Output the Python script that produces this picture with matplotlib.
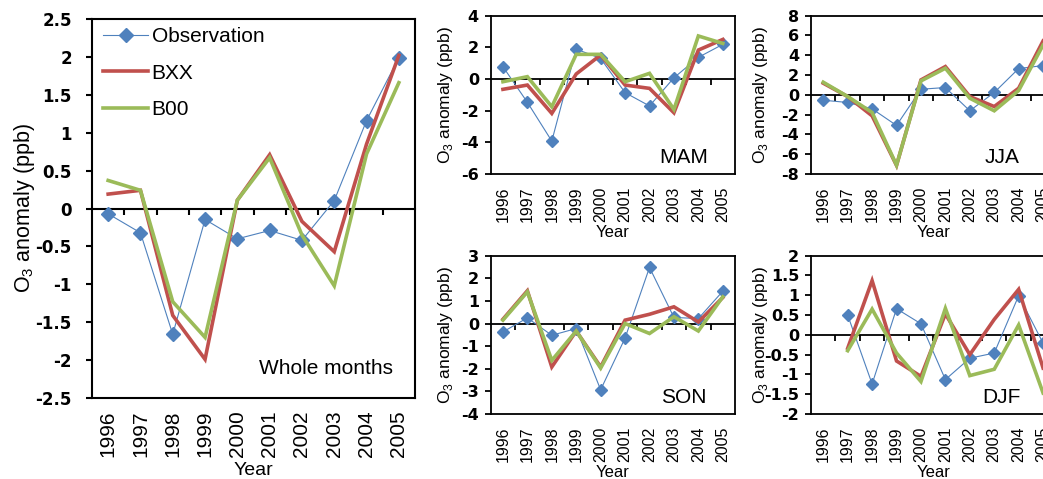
import numpy as np
import matplotlib
matplotlib.use('Agg')
import matplotlib.pyplot as plt
from matplotlib.ticker import FuncFormatter, MultipleLocator, FixedLocator, NullFormatter

years = ['1996', '1997', '1998', '1999', '2000', '2001', '2002', '2003', '2004', '2005']

whole_obs = [-0.07, -0.32, -1.66, -0.145, -0.40, -0.29, -0.42, 0.105, 1.16, 1.99]
whole_bxx = [0.19, 0.24, -1.41, -1.99, 0.11, 0.71, -0.17, -0.57, 0.85, 2.02]
whole_b00 = [0.37, 0.24, -1.23, -1.70, 0.11, 0.67, -0.35, -1.02, 0.72, 1.66]

mam_obs = [0.78, -1.47, -3.92, 1.89, 1.30, -0.86, -1.70, 0.08, 1.37, 2.19]
mam_bxx = [-0.65, -0.38, -2.17, 0.32, 1.52, -0.38, -0.59, -2.13, 1.83, 2.50]
mam_b00 = [-0.17, 0.15, -1.75, 1.56, 1.56, -0.17, 0.36, -1.92, 2.72, 2.25]

jja_obs = [-0.54, -0.77, -1.41, -3.09, 0.57, 0.74, -1.61, 0.24, 2.66, 2.96]
jja_bxx = [1.18, -0.17, -2.12, -7.13, 1.51, 2.86, -0.17, -1.18, 0.67, 5.45]
jja_b00 = [1.28, -0.17, -1.78, -7.10, 1.41, 2.69, -0.34, -1.61, 0.44, 5.04]

son_obs = [-0.37, 0.25, -0.52, -0.22, -2.93, -0.64, 2.48, 0.27, 0.22, 1.43]
son_bxx = [0.19, 1.45, -1.92, -0.33, -1.92, 0.15, 0.41, 0.74, 0.07, 1.15]
son_b00 = [0.15, 1.40, -1.63, -0.33, -1.97, 0.00, -0.44, 0.30, -0.33, 1.18]

djf_obs = [np.nan, 0.50, -1.24, 0.66, 0.28, -1.13, -0.59, -0.46, 0.99, -0.21]
djf_bxx = [np.nan, -0.34, 1.37, -0.66, -1.05, 0.53, -0.50, 0.39, 1.15, -0.84]
djf_b00 = [np.nan, -0.40, 0.65, -0.46, -1.18, 0.67, -1.03, -0.87, 0.25, -1.47]

plt.rcParams['font.family'] = ['Liberation Sans', 'DejaVu Sans']
plt.rcParams['axes.unicode_minus'] = False

BLUE = '#4F81BD'
RED = '#C0504D'
GREEN = '#9BBB59'
YLABEL = r'O$_\mathregular{3}$ anomaly (ppb)'
TICKFONT = dict(family='DejaVu Sans', weight='bold')

fig = plt.figure(figsize=(10.43, 4.79), dpi=100)


def fmt(v, pos):
    return '%g' % round(v, 3) if abs(v) > 1e-9 else '0'


def panel(rect, obs, bxx, b00, ylim, ystep, label, label_xy, cfg):
    ax = fig.add_axes(rect)
    x = np.arange(len(years))
    lw_thick = cfg['lw']
    ax.plot(x, obs, color=BLUE, lw=0.8, marker='D', ms=cfg['ms'],
            mfc=BLUE, mec=BLUE, label='Observation', zorder=3)
    ax.plot(x, bxx, color=RED, lw=lw_thick, label='BXX', zorder=4,
            solid_joinstyle='miter')
    ax.plot(x, b00, color=GREEN, lw=lw_thick, label='B00', zorder=5,
            solid_joinstyle='miter')
    ax.set_xlim(-0.5, len(years) - 0.5)
    ax.set_ylim(*ylim)
    ax.yaxis.set_major_locator(MultipleLocator(ystep))
    ax.yaxis.set_major_formatter(FuncFormatter(fmt))
    ax.set_xticks(x)
    ax.set_xticklabels(years, rotation=90, fontsize=cfg['xfs'])
    ax.tick_params(axis='x', length=0, pad=cfg['xpad'])
    ax.tick_params(axis='y', direction='out', length=cfg['ytl'], width=cfg['sw'],
                   pad=cfg['ypad'])
    for t in ax.get_yticklabels():
        t.set_fontproperties(dict(TICKFONT, size=cfg['yfs']))
    for s in ax.spines.values():
        s.set_linewidth(cfg['sw'])
    ax.set_ylabel(YLABEL, fontsize=cfg['ylfs'])
    ax.yaxis.set_label_coords(cfg['ylx'], 0.5)
    ax.set_xlabel('Year', fontsize=cfg['xlfs'], labelpad=0)
    ax.xaxis.set_label_coords(0.5, cfg['xly'])
    ax.text(label_xy[0], label_xy[1], label, transform=ax.transAxes,
            ha='center', va='center', fontsize=cfg['tfs'])
    # zero line with category-boundary tick marks
    zero_frac = (0 - ylim[0]) / (ylim[1] - ylim[0])
    sec = ax.secondary_xaxis(zero_frac)
    sec.set_alignment('bottom')
    sec.xaxis.set_major_locator(FixedLocator(x[:-1] + 0.5))
    sec.xaxis.set_major_formatter(NullFormatter())
    sec.tick_params(axis='x', direction='out', length=cfg['ztl'], width=cfg['sw'])
    sec.spines['bottom'].set_linewidth(cfg['sw'])
    return ax


main_cfg = dict(lw=2.6, ms=7.5, xfs=15, xpad=9, ytl=4.5, sw=1.5, yfs=12,
                ypad=10, ylfs=15.5, ylx=-0.170, xlfs=14, xly=-0.168, tfs=15, ztl=4)
small_cfg = dict(lw=2.6, ms=6, xfs=11.5, xpad=9, ytl=4, sw=1.3, yfs=11.5,
                 ypad=4.5, ylfs=12.5, ylx=-0.148, xlfs=12, xly=-0.325, tfs=15, ztl=4)
small_cfg_r = dict(small_cfg, ylx=-0.166)

ax0 = panel([0.0882, 0.1691, 0.3097, 0.7912], whole_obs, whole_bxx, whole_b00,
            (-2.5, 2.5), 0.5, 'Whole months', (0.723, 0.077), main_cfg)
ax0.legend(loc='upper left', bbox_to_anchor=(0.035, 0.978), frameon=False,
           fontsize=15, handlelength=2.16, handletextpad=0.16, labelspacing=0.83,
           borderaxespad=0, borderpad=0)

panel([0.4705, 0.6367, 0.2342, 0.3305], mam_obs, mam_bxx, mam_b00,
      (-6, 4), 2, 'MAM', (0.79, 0.107), small_cfg)
panel([0.7776, 0.6367, 0.2342, 0.3305], jja_obs, jja_bxx, jja_b00,
      (-8, 8), 2, 'JJA', (0.78, 0.107), small_cfg_r)
panel([0.4705, 0.1357, 0.2342, 0.3305], son_obs, son_bxx, son_b00,
      (-4, 3), 1, 'SON', (0.79, 0.105), small_cfg)
panel([0.7776, 0.1357, 0.2342, 0.3305], djf_obs, djf_bxx, djf_b00,
      (-2, 2), 0.5, 'DJF', (0.78, 0.105), small_cfg_r)

fig.savefig('out.png', dpi=100)
